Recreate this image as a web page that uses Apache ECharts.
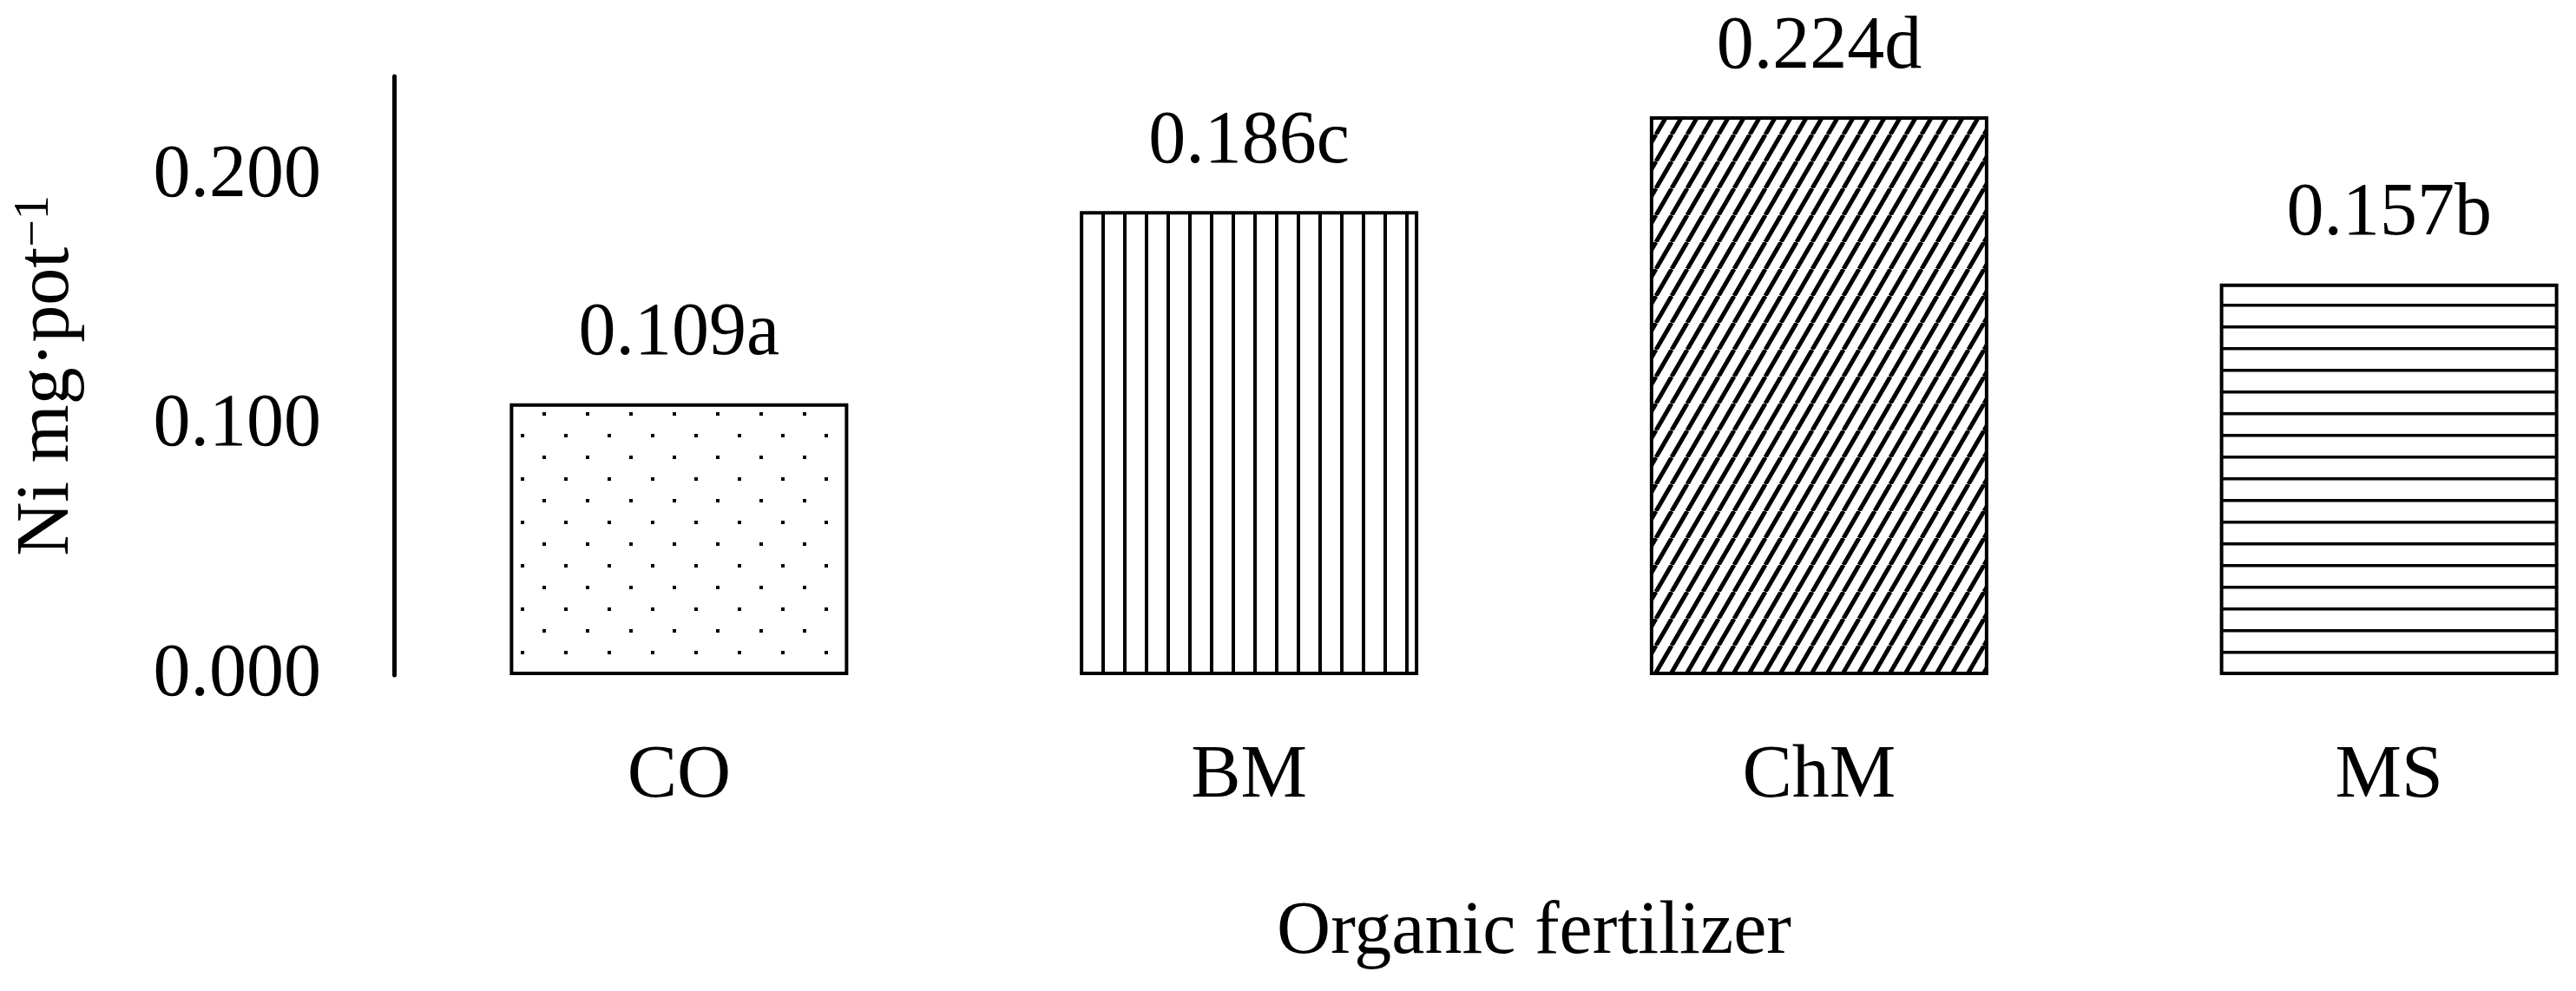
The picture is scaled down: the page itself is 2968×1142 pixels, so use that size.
<!DOCTYPE html>
<html>
<head>
<meta charset="utf-8">
<script src="https://cdn.jsdelivr.net/npm/echarts@6/dist/echarts.min.js"></script>
<style>
html,body{margin:0;padding:0;background:#fff;}
#chart{width:2968px;height:1142px;}
</style>
</head>
<body>
<div id="chart"></div>
<script>
// ---- data ----
const categories = ['CO', 'BM', 'ChM', 'MS'];
const values = [0.109, 0.186, 0.224, 0.157];
const letters = ['a', 'c', 'd', 'b'];
const yTicks = [0.000, 0.100, 0.200];
const xTitle = 'Organic fertilizer';
const yTitle = 'Ni mg·pot';
const ySup = '−1';

// ---- patterns ----
function makeTile(w, h, draw) {
  const c = document.createElement('canvas');
  c.width = w; c.height = h;
  const ctx = c.getContext('2d');
  ctx.fillStyle = '#fff';
  ctx.fillRect(0, 0, w, h);
  ctx.fillStyle = '#000';
  ctx.strokeStyle = '#000';
  draw(ctx, w, h);
  return { image: c, repeat: 'repeat' };
}
const dotPattern = makeTile(50, 50, (ctx) => {
  ctx.fillRect(0, 0, 4, 4);
  ctx.fillRect(25, 25, 4, 4);
});
const vLinePattern = makeTile(25, 25, (ctx) => {
  ctx.fillRect(19, 0, 4, 25);
});
const diagPattern = makeTile(18, 31, (ctx, w, h) => {
  ctx.lineWidth = 5;
  for (let k = -1; k <= 1; k++) {
    ctx.beginPath();
    ctx.moveTo(k * w, h);
    ctx.lineTo(k * w + w, 0);
    ctx.stroke();
  }
});
const hLinePattern = makeTile(25, 25, (ctx) => {
  ctx.fillRect(0, 0, 25, 3.5);
});
const patterns = [dotPattern, vLinePattern, diagPattern, hLinePattern];

const FONT = '"Liberation Serif", "Times New Roman", serif';
const FS = 86;

const chart = echarts.init(document.getElementById('chart'), null, { renderer: 'canvas' });
chart.setOption({
  animation: false,
  backgroundColor: '#ffffff',
  grid: {
    left: 454,
    top: 88,
    width: 2627,
    height: 690,
    outerBoundsMode: 'none',
    containLabel: false
  },
  xAxis: {
    type: 'category',
    data: categories,
    name: xTitle,
    nameLocation: 'middle',
    nameGap: 254,
    nameTextStyle: { fontFamily: FONT, fontSize: FS, color: '#000' },
    axisLine: { show: false },
    axisTick: { show: false },
    axisLabel: { margin: 74, fontFamily: FONT, fontSize: FS, color: '#000' },
    splitLine: { show: false }
  },
  yAxis: {
    type: 'value',
    min: 0,
    max: 0.24,
    interval: 0.1,
    name: '{a|' + yTitle + '}{s|' + ySup + '}',
    nameLocation: 'middle',
    nameRotate: 90,
    nameGap: 356,
    nameTextStyle: {
      fontFamily: FONT, fontSize: FS, color: '#000',
      rich: {
        a: { fontFamily: FONT, fontSize: FS, color: '#000' },
        s: { fontFamily: FONT, fontSize: 56, color: '#000', verticalAlign: 'top' }
      }
    },
    axisLine: { show: true, lineStyle: { color: '#000', width: 5 } },
    axisTick: { show: false },
    splitLine: { show: false },
    axisLabel: {
      margin: 84,
      fontFamily: FONT, fontSize: FS, color: '#000',
      showMaxLabel: false,
      formatter: (v) => (yTicks.some(t => Math.abs(t - v) < 1e-9) ? v.toFixed(3) : '')
    }
  },
  series: [{
    type: 'bar',
    barWidth: 390,
    data: values.map((v, i) => ({
      value: v,
      itemStyle: { color: patterns[i] }
    })),
    itemStyle: { borderColor: '#000', borderWidth: 4 },
    label: {
      show: true,
      position: 'top',
      distance: 36,
      fontFamily: FONT,
      fontSize: FS,
      color: '#000',
      formatter: (p) => values[p.dataIndex].toFixed(3) + letters[p.dataIndex]
    }
  }]
});
</script>
</body>
</html>
